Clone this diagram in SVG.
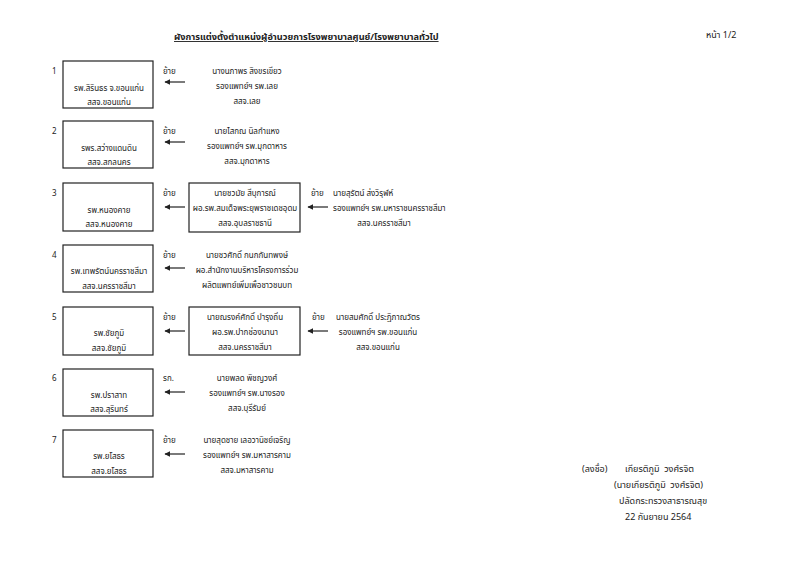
<svg xmlns="http://www.w3.org/2000/svg" width="800" height="561" viewBox="0 0 800 561">
<defs>
<style>
text{font-family:"Noto Sans Thai","Noto Sans","DejaVu Sans",sans-serif;font-size:8px;fill:#222;white-space:pre;}
.c{text-anchor:middle;}
.t{font-size:9.2px;font-weight:bold;text-decoration:underline;}
.s{font-size:9px;}
.box{fill:#fff;stroke:#222;stroke-width:1.2;}
.ar{stroke:#222;stroke-width:1.2;fill:none;marker-end:url(#ah);}
</style>
<marker id="ah" viewBox="0 0 10 10" refX="9" refY="5" markerWidth="5" markerHeight="5" orient="auto" markerUnits="strokeWidth">
<path d="M0,0 L10,5 L0,10 z" fill="#222"/>
</marker>
</defs>
<rect width="800" height="561" fill="#fff"/>
<text class="t" x="174" y="40">ผังการแต่งตั้งตำแหน่งผู้อำนวยการโรงพยาบาลศูนย์/โรงพยาบาลทั่วไป</text>
<text class="s" x="706" y="38">หน้า 1/2</text>

<g id="row1">
<text x="52" y="74">1</text>
<g id="target1"><rect class="box" x="63" y="61" width="90" height="47"/>
<text class="c" x="109" y="91">รพ.สิรินธร จ.ขอนแก่น</text><text class="c" x="109" y="105">สสจ.ขอนแก่น</text></g>
<text x="163" y="74">ย้าย</text>
<g id="source1"><text class="c" x="247" y="74">นางนภาพร สิงขรเขียว</text><text class="c" x="247" y="89">รองแพทย์ฯ รพ.เลย</text><text class="c" x="247" y="104">สสจ.เลย</text></g>
</g>

<g id="row2">
<text x="52" y="134">2</text>
<g id="target2"><rect class="box" x="63" y="121" width="90" height="47"/>
<text class="c" x="109" y="151">รพร.สว่างแดนดิน</text><text class="c" x="109" y="165">สสจ.สกลนคร</text></g>
<text x="163" y="134">ย้าย</text>
<g id="source2"><text class="c" x="247" y="134">นายไสกณ นิลกำแหง</text><text class="c" x="247" y="149">รองแพทย์ฯ รพ.มุกดาหาร</text><text class="c" x="247" y="164">สสจ.มุกดาหาร</text></g>
</g>

<g id="row3">
<text x="52" y="196">3</text>
<g id="target3"><rect class="box" x="63" y="183" width="90" height="48"/>
<text class="c" x="109" y="213">รพ.หนองคาย</text><text class="c" x="109" y="227">สสจ.หนองคาย</text></g>
<text x="163" y="196">ย้าย</text>
<g id="mid3"><rect class="box" x="189" y="183" width="111" height="49"/>
<text class="c" x="245" y="196">นายชวมัย สีบุการณ์</text><text class="c" x="245" y="211">ผอ.รพ.สมเด็จพระยุพราชเดชอุดม</text><text class="c" x="245" y="226">สสจ.อุบลราชธานี</text></g>
<text x="311" y="196">ย้าย</text>
<g id="source3"><text x="333" y="196">นายสุรัตน์ ส่งวิรุฬห์</text><text x="333" y="211">รองแพทย์ฯ รพ.มหาราชนครราชสีมา</text><text class="c" x="384" y="226">สสจ.นครราชสีมา</text></g>
</g>

<g id="row4">
<text x="52" y="258">4</text>
<g id="target4"><rect class="box" x="63" y="245" width="90" height="47"/>
<text class="c" x="109" y="274">รพ.เทพรัตน์นครราชสีมา</text><text class="c" x="109" y="289">สสจ.นครราชสีมา</text></g>
<text x="163" y="258">ย้าย</text>
<g id="source4"><text class="c" x="247" y="258">นายชวศักดิ์ กนกกันทพงษ์</text><text class="c" x="247" y="273">ผอ.สำนักงานบริหารโครงการร่วม</text><text class="c" x="247" y="288">ผลิตแพทย์เพิ่มเพื่อชาวชนบท</text></g>
</g>

<g id="row5">
<text x="52" y="320">5</text>
<g id="target5"><rect class="box" x="63" y="307" width="90" height="48"/>
<text class="c" x="109" y="336">รพ.ชัยภูมิ</text><text class="c" x="109" y="351">สสจ.ชัยภูมิ</text></g>
<text x="163" y="320">ย้าย</text>
<g id="mid5"><rect class="box" x="189" y="307" width="111" height="48"/>
<text class="c" x="245" y="320">นายณรงค์ศักดิ์ บำรุงถิ่น</text><text class="c" x="245" y="335">ผอ.รพ.ปากช่องนานา</text><text class="c" x="245" y="350">สสจ.นครราชสีมา</text></g>
<text x="312" y="320">ย้าย</text>
<g id="source5"><text class="c" x="378" y="320">นายสมศักดิ์ ประฏิภาณวัตร</text><text class="c" x="378" y="335">รองแพทย์ฯ รพ.ขอนแก่น</text><text class="c" x="378" y="350">สสจ.ขอนแก่น</text></g>
</g>

<g id="row6">
<text x="52" y="381">6</text>
<g id="target6"><rect class="box" x="63" y="369" width="90" height="47"/>
<text class="c" x="109" y="398">รพ.ปราสาท</text><text class="c" x="109" y="412">สสจ.สุรินทร์</text></g>
<text x="163" y="381">รก.</text>
<g id="source6"><text class="c" x="247" y="381">นายพลด พิชญวงศ์</text><text class="c" x="247" y="396">รองแพทย์ฯ รพ.นางรอง</text><text class="c" x="247" y="411">สสจ.บุรีรัมย์</text></g>
</g>

<g id="row7">
<text x="52" y="443">7</text>
<g id="target7"><rect class="box" x="63" y="430" width="90" height="47"/>
<text class="c" x="109" y="459">รพ.ยโสธร</text><text class="c" x="109" y="474">สสจ.ยโสธร</text></g>
<text x="163" y="443">ย้าย</text>
<g id="source7"><text class="c" x="247" y="443">นายสุดชาย เลอวานิชย์เจริญ</text><text class="c" x="247" y="458">รองแพทย์ฯ รพ.มหาสารคาม</text><text class="c" x="247" y="473">สสจ.มหาสารคาม</text></g>
</g>

<g id="connectors">
<line class="ar" x1="185" y1="82" x2="165" y2="82"/>
<line class="ar" x1="185" y1="142" x2="165" y2="142"/>
<line class="ar" x1="185" y1="207" x2="165" y2="207"/>
<line class="ar" x1="328" y1="207" x2="308" y2="207"/>
<line class="ar" x1="185" y1="268" x2="165" y2="268"/>
<line class="ar" x1="185" y1="331" x2="165" y2="331"/>
<line class="ar" x1="328" y1="331" x2="308" y2="331"/>
<line class="ar" x1="185" y1="392" x2="165" y2="392"/>
<line class="ar" x1="185" y1="454" x2="165" y2="454"/>
</g>

<g id="signature">
<text class="s" x="582" y="472">(ลงชื่อ)</text>
<text class="s" x="625" y="472">เกียรติภูมิ  วงศ์รจิต</text>
<text class="s" x="614" y="488">(นายเกียรติภูมิ  วงศ์รจิต)</text>
<text class="s" x="619" y="504">ปลัดกระทรวงสาธารณสุข</text>
<text class="s" x="625" y="520">22 กันยายน 2564</text>
</g>
</svg>
